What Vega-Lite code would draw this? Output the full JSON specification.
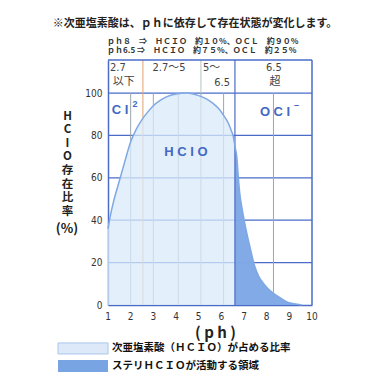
{
  "$schema": "https://vega.github.io/schema/vega-lite/v6.json",
  "width": 204,
  "height": 245,
  "autosize": {"type": "none"},
  "padding": {"left": 108, "top": 60, "right": 67, "bottom": 85},
  "background": "white",
  "config": {
    "view": {"stroke": null},
    "font": "Noto Sans CJK JP",
    "axis": {
      "domainColor": "#4a6cc8",
      "domainWidth": 1.5,
      "ticks": false,
      "grid": false,
      "labelOverlap": false,
      "labelFlush": false,
      "labelFont": "Liberation Sans Narrow, DejaVu Sans Condensed, sans-serif",
      "labelFontSize": 10,
      "labelColor": "#333333"
    }
  },
  "datasets": {
    "curve": [
      {"ph": 1.0, "v": 36}, {"ph": 1.1, "v": 42}, {"ph": 1.25, "v": 49}, {"ph": 1.5, "v": 58.5},
      {"ph": 1.75, "v": 68}, {"ph": 2.0, "v": 77}, {"ph": 2.25, "v": 83}, {"ph": 2.5, "v": 87.5},
      {"ph": 2.75, "v": 91}, {"ph": 3.0, "v": 94}, {"ph": 3.3, "v": 96.5}, {"ph": 3.6, "v": 98.3},
      {"ph": 4.0, "v": 99.6}, {"ph": 4.5, "v": 100}, {"ph": 5.0, "v": 98.8}, {"ph": 5.3, "v": 97.5},
      {"ph": 5.65, "v": 95}, {"ph": 5.9, "v": 92.5}, {"ph": 6.1, "v": 89.5}, {"ph": 6.3, "v": 86},
      {"ph": 6.45, "v": 82}, {"ph": 6.53, "v": 79.4}, {"ph": 6.6, "v": 75}, {"ph": 6.68, "v": 70},
      {"ph": 6.75, "v": 60}, {"ph": 6.82, "v": 52}, {"ph": 6.9, "v": 46.4}, {"ph": 7.04, "v": 38.2},
      {"ph": 7.26, "v": 27.5}, {"ph": 7.48, "v": 18}, {"ph": 7.65, "v": 13.5}, {"ph": 7.85, "v": 10.3},
      {"ph": 8.05, "v": 7.8}, {"ph": 8.3, "v": 5.5}, {"ph": 8.6, "v": 3.4}, {"ph": 8.87, "v": 1.6},
      {"ph": 9.2, "v": 0.6}, {"ph": 9.55, "v": 0}
    ],
    "legend": [
      {"x1": -1.206, "x2": 1.0, "y1": -17.9, "y2": -23.1, "tx": 1.176, "ty": -20.5, "label": "次亜塩素酸（ＨＣＩＯ）が占める比率", "kind": "light"},
      {"x1": -1.206, "x2": 1.0, "y1": -26.0, "y2": -31.6, "tx": 1.176, "ty": -28.8, "label": "ステリＨＣＩＯが活動する領域", "kind": "dark"}
    ]
  },
  "layer": [
    {
      "data": {"name": "curve"},
      "mark": {"type": "area", "color": "#daebfa", "opacity": 0, "interpolate": "monotone"},
      "encoding": {
        "x": {
          "field": "ph", "type": "quantitative",
          "scale": {"domain": [1, 10], "nice": false, "zero": false},
          "axis": {"values": [1, 2, 3, 4, 5, 6, 7, 8, 9, 10], "labels": false, "title": "( p h )",
            "titleFont": "Noto Sans CJK JP", "titleFontSize": 15, "titleFontWeight": "bold",
            "titleColor": "#222222", "titlePadding": 20, "titleX": 107}
        },
        "y": {
          "field": "v", "type": "quantitative",
          "scale": {"domain": [0, 115.6], "nice": false},
          "axis": {"values": [0, 20, 40, 60, 80, 100], "labelPadding": 6,
            "title": ["H", "C", "I", "O", "存", "在", "比", "率"],
            "titleAngle": 0, "titleAlign": "center", "titleBaseline": "top",
            "titleX": -41, "titleY": 50, "titleFont": "Noto Sans CJK JP",
            "titleFontSize": 11.5, "titleFontWeight": "bold", "titleLineHeight": 13.6,
            "titleColor": "#222222"}
        }
      }
    },
    {
      "data": {"values": [{"ph": 1}, {"ph": 2}, {"ph": 3}, {"ph": 4}, {"ph": 5}, {"ph": 6}, {"ph": 7}, {"ph": 8}, {"ph": 9}, {"ph": 10}]},
      "mark": {"type": "text", "align": "center", "baseline": "middle", "fontSize": 10, "color": "#333333",
        "font": "Liberation Sans Narrow, DejaVu Sans Condensed, sans-serif"},
      "encoding": {
        "x": {"field": "ph", "type": "quantitative"},
        "y": {"datum": -5.5, "type": "quantitative"},
        "text": {"field": "ph", "type": "quantitative"}
      }
    },
    {
      "data": {"values": [{"v": 20}, {"v": 40}, {"v": 60}, {"v": 80}, {"v": 100}]},
      "mark": {"type": "rule", "color": "#4a6cc8", "strokeWidth": 1.2},
      "encoding": {
        "y": {"field": "v", "type": "quantitative"}
      }
    },
    {
      "data": {"values": [{"ph": 2}, {"ph": 3}, {"ph": 4.1}, {"ph": 5.1}, {"ph": 6.1}, {"ph": 8.3}]},
      "mark": {"type": "rule", "color": "#9aa6ae", "strokeWidth": 1},
      "encoding": {
        "x": {"field": "ph", "type": "quantitative"},
        "y": {"datum": 0, "type": "quantitative"},
        "y2": {"datum": 100}
      }
    },
    {
      "data": {"values": [{"ph": 2.54}]},
      "mark": {"type": "rule", "color": "#e2a070", "strokeWidth": 1},
      "encoding": {
        "x": {"field": "ph", "type": "quantitative"}
      }
    },
    {
      "data": {"values": [{"ph": 5.1}]},
      "mark": {"type": "rule", "color": "#b4c6bc", "strokeWidth": 1},
      "encoding": {
        "x": {"field": "ph", "type": "quantitative"},
        "y": {"datum": 100, "type": "quantitative"},
        "y2": {"datum": 115.6}
      }
    },
    {
      "data": {"name": "curve"},
      "mark": {"type": "area", "color": "#daebfa", "opacity": 0.75, "interpolate": "monotone"},
      "encoding": {
        "x": {"field": "ph", "type": "quantitative"},
        "y": {"field": "v", "type": "quantitative"}
      }
    },
    {
      "data": {"name": "curve"},
      "transform": [{"filter": "datum.ph >= 6.6"}],
      "mark": {"type": "area", "color": "#78a4e4", "opacity": 0.92, "interpolate": "monotone"},
      "encoding": {
        "x": {"field": "ph", "type": "quantitative"},
        "y": {"field": "v", "type": "quantitative"}
      }
    },
    {
      "data": {"values": [{"ph": 6.6}]},
      "mark": {"type": "rule", "color": "#4a6cc8", "strokeWidth": 1.2},
      "encoding": {
        "x": {"field": "ph", "type": "quantitative"}
      }
    },
    {
      "data": {"name": "curve"},
      "mark": {"type": "line", "color": "#7fa8e4", "strokeWidth": 1.5, "interpolate": "monotone"},
      "encoding": {
        "x": {"field": "ph", "type": "quantitative"},
        "y": {"field": "v", "type": "quantitative"}
      }
    },
    {
      "data": {"values": [{"ph": 10}]},
      "mark": {"type": "rule", "color": "#4a6cc8", "strokeWidth": 1.5},
      "encoding": {
        "x": {"field": "ph", "type": "quantitative"}
      }
    },
    {
      "data": {"values": [{"v": 115.6}]},
      "mark": {"type": "rule", "color": "#4a6cc8", "strokeWidth": 1.5},
      "encoding": {
        "y": {"field": "v", "type": "quantitative"}
      }
    },
    {
      "data": {"name": "legend"},
      "transform": [{"filter": "datum.kind == 'light'"}],
      "mark": {"type": "rect", "color": "#dde9f8", "stroke": "#a9c6ee", "strokeWidth": 1},
      "encoding": {
        "x": {"field": "x1", "type": "quantitative"},
        "x2": {"field": "x2"},
        "y": {"field": "y1", "type": "quantitative"},
        "y2": {"field": "y2"}
      }
    },
    {
      "data": {"name": "legend"},
      "transform": [{"filter": "datum.kind == 'dark'"}],
      "mark": {"type": "rect", "color": "#78a4e4"},
      "encoding": {
        "x": {"field": "x1", "type": "quantitative"},
        "x2": {"field": "x2"},
        "y": {"field": "y1", "type": "quantitative"},
        "y2": {"field": "y2"}
      }
    },
    {
      "data": {"name": "legend"},
      "mark": {"type": "text", "align": "left", "baseline": "middle", "fontSize": 10.5, "fontWeight": "bold",
        "color": "#111111", "font": "Noto Sans CJK JP"},
      "encoding": {
        "x": {"field": "tx", "type": "quantitative"},
        "y": {"field": "ty", "type": "quantitative"},
        "text": {"field": "label"}
      }
    },
    {
      "data": {"values": [{"ph": 1.09, "v": 111.8, "t": "2.7"}, {"ph": 5.19, "v": 111.8, "t": "5～"}]},
      "mark": {"type": "text", "align": "left", "baseline": "middle", "fontSize": 11, "color": "#444444",
        "font": "Liberation Sans Narrow, DejaVu Sans Condensed, Noto Sans CJK JP"},
      "encoding": {
        "x": {"field": "ph", "type": "quantitative"},
        "y": {"field": "v", "type": "quantitative"},
        "text": {"field": "t"}
      }
    },
    {
      "data": {"values": [{"ph": 1.7, "v": 105.2, "t": "以下"}, {"ph": 3.69, "v": 111.8, "t": "2.7～5"},
        {"ph": 8.32, "v": 111.8, "t": "6.5"}, {"ph": 8.37, "v": 105.2, "t": "超"}]},
      "mark": {"type": "text", "align": "center", "baseline": "middle", "fontSize": 11, "color": "#444444",
        "font": "Liberation Sans Narrow, DejaVu Sans Condensed, Noto Sans CJK JP"},
      "encoding": {
        "x": {"field": "ph", "type": "quantitative"},
        "y": {"field": "v", "type": "quantitative"},
        "text": {"field": "t"}
      }
    },
    {
      "data": {"values": [{"ph": 6.38, "v": 104.6, "t": "6.5"}]},
      "mark": {"type": "text", "align": "right", "baseline": "middle", "fontSize": 11, "color": "#444444",
        "font": "Liberation Sans Narrow, DejaVu Sans Condensed, Noto Sans CJK JP"},
      "encoding": {
        "x": {"field": "ph", "type": "quantitative"},
        "y": {"field": "v", "type": "quantitative"},
        "text": {"field": "t"}
      }
    },
    {
      "data": {"values": [{"ph": 1.53, "v": 92, "t": "C I"}, {"ph": 4.44, "v": 72.3, "t": "H C I O"}, {"ph": 8.37, "v": 91.2, "t": "O C I"}]},
      "mark": {"type": "text", "align": "center", "baseline": "middle", "fontSize": 13, "fontWeight": "bold",
        "color": "#4468c4", "font": "Liberation Sans, Arial, sans-serif"},
      "encoding": {
        "x": {"field": "ph", "type": "quantitative"},
        "y": {"field": "v", "type": "quantitative"},
        "text": {"field": "t"}
      }
    },
    {
      "data": {"values": [{"ph": 2.19, "v": 95, "t": "2"}, {"ph": 9.32, "v": 94.5, "t": "–"}]},
      "mark": {"type": "text", "align": "center", "baseline": "middle", "fontSize": 9, "fontWeight": "bold",
        "color": "#4468c4", "font": "Liberation Sans, Arial, sans-serif"},
      "encoding": {
        "x": {"field": "ph", "type": "quantitative"},
        "y": {"field": "v", "type": "quantitative"},
        "text": {"field": "t"}
      }
    },
    {
      "data": {"values": [{"ph": 4.84, "v": 132.6, "t": "※次亜塩素酸は、ｐｈに依存して存在状態が変化します。"}]},
      "mark": {"type": "text", "align": "center", "baseline": "middle", "fontSize": 11, "fontWeight": "bold",
        "color": "#222222", "font": "Noto Sans CJK JP"},
      "encoding": {
        "x": {"field": "ph", "type": "quantitative"},
        "y": {"field": "v", "type": "quantitative"},
        "text": {"field": "t"}
      }
    },
    {
      "data": {"values": [{"ph": 0.96, "v": 124.3, "t": "ｐｈ８　⇒　ＨＣＩＯ　約１０%、ＯＣＬ　約９０%"},
        {"ph": 0.96, "v": 119.7, "t": "ｐｈ6.5 ⇒　ＨＣＩＯ　約７５%、ＯＣＬ　約２５%"}]},
      "mark": {"type": "text", "align": "left", "baseline": "middle", "fontSize": 8, "fontWeight": "bold",
        "color": "#333333", "font": "Noto Sans CJK JP"},
      "encoding": {
        "x": {"field": "ph", "type": "quantitative"},
        "y": {"field": "v", "type": "quantitative"},
        "text": {"field": "t"}
      }
    },
    {
      "data": {"values": [{"ph": -0.81, "v": 35.9, "t": "(%)"}]},
      "mark": {"type": "text", "align": "center", "baseline": "middle", "fontSize": 13, "fontWeight": "bold",
        "color": "#222222", "font": "Noto Sans CJK JP"},
      "encoding": {
        "x": {"field": "ph", "type": "quantitative"},
        "y": {"field": "v", "type": "quantitative"},
        "text": {"field": "t"}
      }
    }
  ]
}
